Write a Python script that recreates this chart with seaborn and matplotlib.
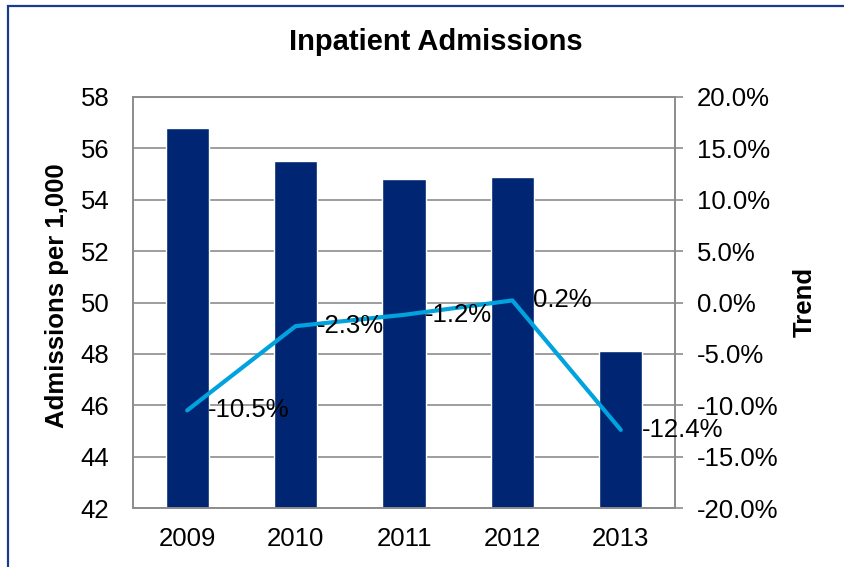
import numpy as np
import pandas as pd
import matplotlib
matplotlib.use('Agg')
import matplotlib.pyplot as plt
from matplotlib.patches import Rectangle
from matplotlib.ticker import FuncFormatter, MultipleLocator
import seaborn as sns

# Chart data
years = ['2009', '2010', '2011', '2012', '2013']
admissions = [56.8, 55.5, 54.8, 54.9, 48.1]
trend_pct = [-10.5, -2.3, -1.2, 0.2, -12.4]

BAR_COLOR = '#002673'
LINE_COLOR = '#00A3DD'
GRID_COLOR = '#8C8C8C'

sns.set_theme(style='white')
plt.rcParams['font.family'] = ['Liberation Sans', 'DejaVu Sans']
plt.rcParams['text.color'] = 'black'
plt.rcParams['axes.labelcolor'] = 'black'
plt.rcParams['xtick.color'] = 'black'
plt.rcParams['ytick.color'] = 'black'

df = pd.DataFrame({'year': years, 'admissions': admissions, 'trend': trend_pct})
df['pos'] = np.arange(len(df))

fig = plt.figure(figsize=(8.44, 5.67), dpi=100)
ax = fig.add_axes([133 / 844, 1 - 508 / 567, (675 - 133) / 844, (508 - 97) / 567])

sns.barplot(data=df, x='year', y='admissions', color=BAR_COLOR, saturation=1,
            width=0.4, ax=ax, zorder=2)
ax.set_ylim(42, 58)
ax.yaxis.set_major_locator(MultipleLocator(2))
ax.set_axisbelow(True)
ax.grid(axis='y', color=GRID_COLOR, linewidth=1.2)
ax.grid(axis='x', visible=False)
ax.set_xlabel('')
ax.set_ylabel('')
ax.tick_params(axis='both', labelsize=18.5, length=0, labelcolor='black')
ax.tick_params(axis='y', pad=17)
ax.tick_params(axis='x', pad=14)
for s in ax.spines.values():
    s.set_color(GRID_COLOR)
    s.set_linewidth(1.2)

ax2 = ax.twinx()
sns.lineplot(data=df, x='pos', y='trend', color=LINE_COLOR, linewidth=3,
             ax=ax2, solid_capstyle='round')
ax2.set_ylim(-20, 20)
ax2.yaxis.set_major_locator(MultipleLocator(5))
ax2.yaxis.set_major_formatter(FuncFormatter(lambda v, p: f'{v:.1f}%'))
ax2.set_xlim(-0.5, len(years) - 0.5)
ax2.set_ylabel('')
ax2.set_xlabel('')
ax2.grid(False)
ax2.tick_params(axis='y', labelsize=18.5, length=6, width=1.2, color=GRID_COLOR,
                labelcolor='black', direction='out', pad=10, right=True)
for s in ax2.spines.values():
    s.set_color(GRID_COLOR)
    s.set_linewidth(1.2)

for i, v in enumerate(trend_pct):
    ax2.annotate(f'{v:.1f}%', (df['pos'][i], v), xytext=(15, 0),
                 textcoords='offset points', va='center', ha='left',
                 fontsize=18.5, color='black')

fig.text(436 / 844, 1 - 42 / 567, 'Inpatient Admissions', ha='center',
         va='center', fontsize=21, fontweight='bold', color='black')
fig.text(57 / 844, 1 - 296 / 567, 'Admissions per 1,000', ha='center',
         va='center', rotation=90, fontsize=18.5, fontweight='bold', color='black')
fig.text(805 / 844, 1 - 302 / 567, 'Trend', ha='center', va='center',
         rotation=90, fontsize=18.5, fontweight='bold', color='black')

# outer chart border
fig.patches.append(Rectangle((8 / 844, -0.05), 1.1, 1 - 6 / 567 + 0.05,
                             transform=fig.transFigure, fill=False,
                             edgecolor='#1A3A8C', linewidth=1.6))

fig.savefig('out.png', dpi=100)
